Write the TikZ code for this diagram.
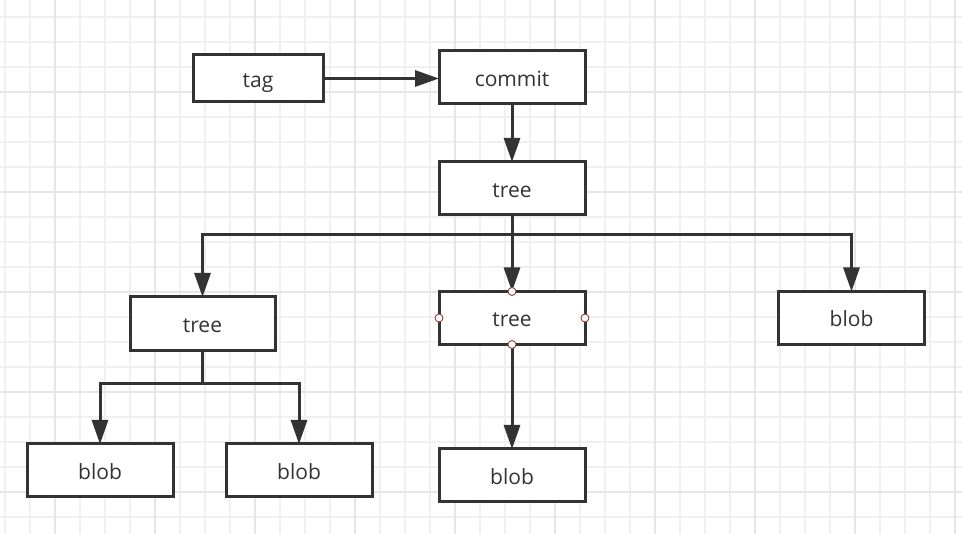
\documentclass[tikz,border=0pt]{standalone}
\usepackage{fontspec}
\setmainfont{Open Sans}
\usetikzlibrary{arrows.meta}

\definecolor{ink}{HTML}{333333}
\definecolor{gridminor}{HTML}{F0F0F0}
\definecolor{gridmajor}{HTML}{E6E6E6}
\definecolor{portred}{HTML}{9A3B3B}

\begin{document}
\begin{tikzpicture}[x=1pt,y=-1pt,
				block/.style={draw=ink,line width=3pt,fill=white,rectangle,outer sep=0pt,
					minimum width=146pt,minimum height=53pt,text=ink,
					text height=19pt,text depth=1pt,
					font=\fontsize{21}{25}\selectfont},
				link/.style={draw=ink,line width=3pt,-{Triangle[length=24pt,width=16pt]}},
				port/.style={circle,draw=portred,fill=white,line width=0.9pt,inner sep=0pt,minimum size=8pt}]
				\useasboundingbox (0,0) rectangle (962,534);
				\fill[white] (0,0) rectangle (962,534);
				% grid
				\foreach \gx in {5,30,...,955}
					\draw[gridminor,line width=1.5pt] (\gx,0) -- (\gx,534);
				\foreach \gy in {17,42,...,517}
					\draw[gridminor,line width=1.5pt] (0,\gy) -- (962,\gy);
				\foreach \gx in {55,155,...,955}
					\draw[gridmajor,line width=1.5pt] (\gx,0) -- (\gx,534);
				\foreach \gy in {92,192,...,492}
					\draw[gridmajor,line width=1.5pt] (0,\gy) -- (962,\gy);

				\node[block,minimum width=130pt,minimum height=47pt] (TAG) at (258,78.5) {tag};
				\node[block] (COMMIT) at (512,77.5)  {commit};
				\node[block] (TREE)   at (512,188.5) {tree};
				\node[block,minimum width=145pt,minimum height=54pt] (LTREE) at (202.5,324) {tree};
				\node[block] (MTREE)  at (512,318)   {tree};
				\node[block] (RBLOB)  at (851.5,318) {blob};
				\node[block] (LBLOB1) at (100,470.5) {blob};
				\node[block] (LBLOB2) at (299,470.5) {blob};
				\node[block] (MBLOB)  at (512,475.5) {blob};

				\coordinate (SPLIT)  at (512,235);
				\coordinate (LSPLIT) at (202.5,384);

				\draw[link] (TAG.east) -- (TAG.east -| COMMIT.west);
				\draw[link] (COMMIT) -- (TREE);
				\draw[draw=ink,line width=3pt] (TREE.south) -- (SPLIT);
				\draw[link] (SPLIT) -| (LTREE.north);
				\draw[link] (SPLIT) -| (RBLOB.north);
				\draw[link] (SPLIT) -- (MTREE.north);
				\draw[draw=ink,line width=3pt] (LTREE.south) -- (LSPLIT);
				\draw[link] (LSPLIT) -| (LBLOB1.north);
				\draw[link] (LSPLIT) -| (LBLOB2.north);
				\draw[link] (MTREE) -- (MBLOB);

				\foreach \side in {north,south,east,west}
					\node[port] at (MTREE.\side) {};
			\end{tikzpicture}
\end{document}
